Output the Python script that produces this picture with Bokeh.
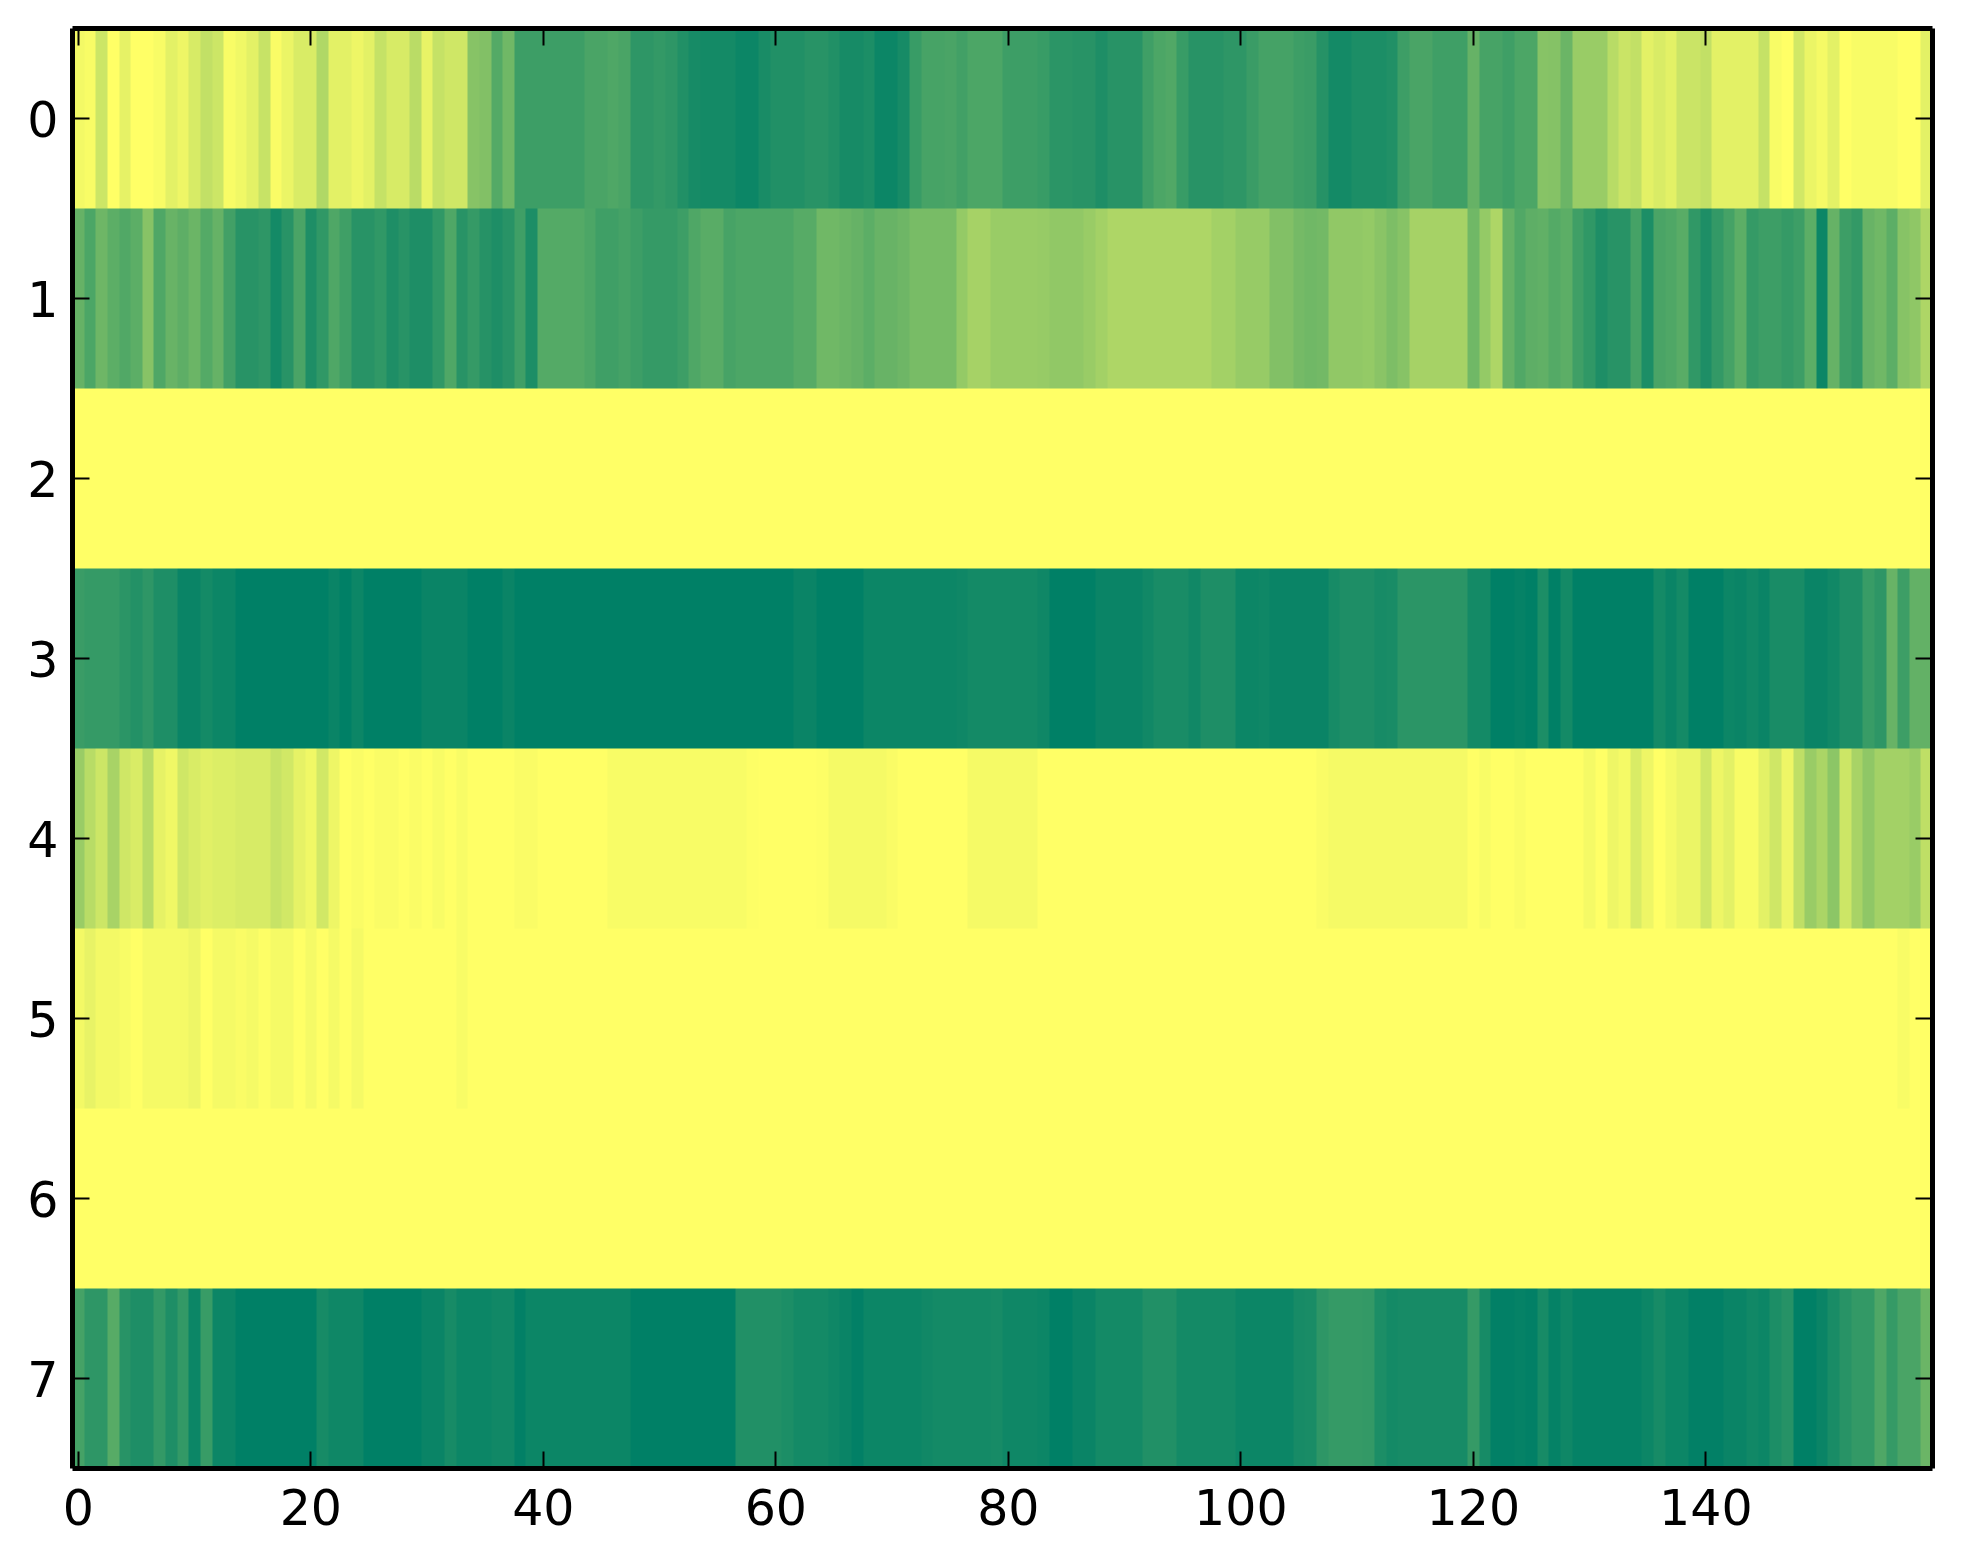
import numpy as np
from bokeh.plotting import figure
from bokeh.models import (LinearColorMapper, LinearAxis, FixedTicker,
                          Range1d, CustomJSTickFormatter)
from bokeh.embed import file_html
from bokeh.resources import INLINE

# values in percent of the colour scale (0 = yellow end, 100 = dark green end)
row0 = [5,3,20,0,10,0,0,3,11,7, 16,24,20,3,6,11,22,2,8,15, 15,31,11,11,7,11,23,16,16,27,
        9,23,19,19,47,49,67,56,76,76, 76,76,76,76,71,71,69,71,82,82, 80,82,87,91,92,92,92,95,95,90,
        87,87,87,84,84,87,91,91,89,95, 95,91,78,72,72,71,74,70,70,70, 76,76,76,78,83,83,84,84,88,84,
        84,84,75,70,68,78,84,84,84,82, 82,77,73,73,73,76,77,85,92,92, 89,89,89,87,76,71,71,75,75,75,
        60,72,72,75,70,70,47,48,58,40, 40,40,28,21,24,11,15,11,21,21, 24,11,11,11,11,23,3,0,18,8,
        4,11,0,3,3,3,3,0,0,11]
row1 = [60,70,57,64,68,64,47,69,59,63, 58,67,60,74,84,84,82,92,84,71, 88,81,69,75,84,84,81,88,84,88,
        88,81,69,84,79,85,88,84,75,89, 67,67,67,67,70,75,75,73,76,79, 79,79,76,69,65,65,72,70,70,70,
        70,70,66,66,56,56,58,60,64,59, 59,57,53,53,53,53,42,35,35,40, 40,40,40,41,43,43,43,40,36,32,
        32,32,32,32,32,32,32,32,36,36, 41,41,41,49,49,54,56,55,43,43, 43,42,46,51,47,35,35,35,35,35,
        56,42,32,60,68,63,62,67,64,75, 81,88,84,84,73,89,71,69,65,81, 88,80,73,64,79,76,76,79,76,64,
        95,60,76,80,59,56,64,47,44,32]
row2 = [0,0,0,0,0,0,0,0,0,0, 0,0,0,0,0,0,0,0,0,0, 0,0,0,0,0,0,0,0,0,0, 0,0,0,0,0,0,0,0,0,0,
        0,0,0,0,0,0,0,0,0,0, 0,0,0,0,0,0,0,0,0,0, 0,0,0,0,0,0,0,0,0,0, 0,0,0,0,0,0,0,0,0,0,
        0,0,0,0,0,0,0,0,0,0, 0,0,0,0,0,0,0,0,0,0, 0,0,0,0,0,0,0,0,0,0, 0,0,0,0,0,0,0,0,0,0,
        0,0,0,0,0,0,0,0,0,0, 0,0,0,0,0,0,0,0,0,0, 0,0,0,0,0,0,0,0,0,0, 0,0,0,0,0,0,0,0,0,0]
row3 = [77,79,79,79,83,86,82,88,88,96, 96,92,95,95,100,100,100,100,100,100, 100,100,96,100,95,100,100,100,100,100,
        96,96,96,96,100,100,100,96,100,100, 100,100,100,100,100,100,100,100,100,100, 100,100,100,100,100,100,100,100,100,100,
        100,100,96,96,100,100,100,100,95,95, 95,95,95,95,95,95,94,92,92,92, 92,92,92,94,100,100,100,100,96,96,
        96,96,93,90,90,90,93,88,88,88, 95,95,94,96,96,96,96,96,91,88, 88,88,91,90,83,83,83,83,83,83,
        92,92,100,100,98,100,89,100,92,100, 100,100,100,100,100,100,92,96,92,100, 100,100,95,96,93,96,90,90,90,96,
        96,93,88,88,78,82,59,76,61,61]
row4 = [40,28,20,34,19,15,28,10,6,19, 15,12,14,14,16,16,16,22,18,10, 6,18,7,0,2,0,2,2,0,2,
        0,3,0,3,0,0,0,0,2,2, 0,0,0,0,0,0,3,3,3,3, 3,3,3,3,3,3,3,3,1,0,
        0,0,0,0,1,4,4,4,4,4, 2,0,0,0,0,0,0,4,4,4, 4,4,4,0,0,0,0,0,0,0,
        0,0,0,0,0,0,0,0,0,0, 0,0,0,0,0,0,0,2,4,4, 4,4,4,4,4,4,4,4,4,4,
        0,3,0,0,2,0,0,0,0,0, 4,0,7,4,15,7,0,4,8,8, 19,7,11,3,3,11,19,7,25,40,
        33,45,20,34,44,36,36,36,40,25]
row5 = [5,9,5,5,3,0,4,4,4,4, 7,0,4,4,2,4,1,4,4,0, 4,0,4,0,4,0,0,0,0,0, 0,0,0,3,0,0,0,0,0,0,
        0,0,0,0,0,0,0,0,0,0, 0,0,0,0,0,0,0,0,0,0, 0,0,0,0,0,0,0,0,0,0, 0,0,0,0,0,0,0,0,0,0,
        0,0,0,0,0,0,0,0,0,0, 0,0,0,0,0,0,0,0,0,0, 0,0,0,0,0,0,0,0,0,0, 0,0,0,0,0,0,0,0,0,0,
        0,0,0,0,0,0,0,0,0,0, 0,0,0,0,0,0,0,0,0,0, 0,0,0,0,0,0,0,0,0,0, 0,0,0,0,0,0,0,3,0,0]
row6 = [0,0,0,0,0,0,0,0,0,0, 0,0,0,0,0,0,0,0,0,0, 0,0,0,0,0,0,0,0,0,0, 0,0,0,0,0,0,0,0,0,0,
        0,0,0,0,0,0,0,0,0,0, 0,0,0,0,0,0,0,0,0,0, 0,0,0,0,0,0,0,0,0,0, 0,0,0,0,0,0,0,0,0,0,
        0,0,0,0,0,0,0,0,0,0, 0,0,0,0,0,0,0,0,0,0, 0,0,0,0,0,0,0,0,0,0, 0,0,0,0,0,0,0,0,0,0,
        0,0,0,0,0,0,0,0,0,0, 0,0,0,0,0,0,0,0,0,0, 0,0,0,0,0,0,0,0,0,0, 0,0,0,0,0,0,0,0,0,0]
row7 = [73,82,82,66,84,88,88,80,88,80, 95,78,95,95,100,100,100,100,100,100, 100,91,94,94,94,100,100,100,100,100,
        96,96,91,95,95,95,93,93,99,95, 95,95,95,95,95,95,95,95,100,100, 100,100,100,100,100,100,100,87,87,87,
        87,89,92,92,92,94,96,99,95,95, 95,95,95,93,92,92,92,92,92,91, 94,94,94,95,100,100,96,96,92,92,
        92,92,87,87,87,92,92,92,92,92, 95,95,95,95,95,91,90,82,79,79, 79,80,89,92,91,91,91,91,91,91,
        79,91,99,99,98,99,91,98,94,98, 98,98,98,98,98,95,91,95,95,99, 99,99,96,96,93,95,89,85,100,100,
        96,90,84,80,80,69,79,71,71,58]
rows = [row0, row1, row2, row3, row4, row5, row6, row7]
x_ticks = [0, 20, 40, 60, 80, 100, 120, 140]
y_ticks = [0, 1, 2, 3, 4, 5, 6, 7]

# summer_r colour map
palette = []
for i in range(256):
    t = 1 - i / 255
    palette.append("#%02x%02x%02x" % (round(255 * t), round(255 * (0.5 + 0.5 * t)), 102))
mapper = LinearColorMapper(palette=palette, low=0, high=100)

p = figure(width=1950, height=1546, frame_width=1860, frame_height=1440,
           min_border_left=72, min_border_right=18, min_border_top=28, min_border_bottom=78,
           x_range=Range1d(-0.5, 159.5), y_range=Range1d(7.5, -0.5),
           output_backend="svg", toolbar_location=None, x_axis_location="below", y_axis_location="left")
p.image(image=[np.array(rows, dtype=float)], x=-0.5, y=-0.5, dw=160, dh=8, color_mapper=mapper)
p.grid.visible = False
p.outline_line_color = None
p.background_fill_color = None


def style(ax, ticks):
    ax.ticker = FixedTicker(ticks=ticks)
    ax.axis_line_color = "black"
    ax.axis_line_width = 5
    ax.major_tick_in = 17
    ax.major_tick_out = 0
    ax.minor_tick_line_color = None
    ax.major_tick_line_color = "black"
    ax.major_tick_line_width = 2
    ax.major_label_text_font = "DejaVu Sans"
    ax.major_label_text_font_size = "49px"
    ax.major_label_text_color = "black"


style(p.xaxis[0], x_ticks)
style(p.yaxis[0], y_ticks)
p.xaxis[0].major_label_standoff = 20
p.yaxis[0].major_label_standoff = 14

blank = "return ''"
top = LinearAxis(formatter=CustomJSTickFormatter(code=blank))
style(top, x_ticks)
p.add_layout(top, "above")
right = LinearAxis(formatter=CustomJSTickFormatter(code=blank))
style(right, y_ticks)
p.add_layout(right, "right")

open("out.html", "w").write(file_html(p, INLINE))
